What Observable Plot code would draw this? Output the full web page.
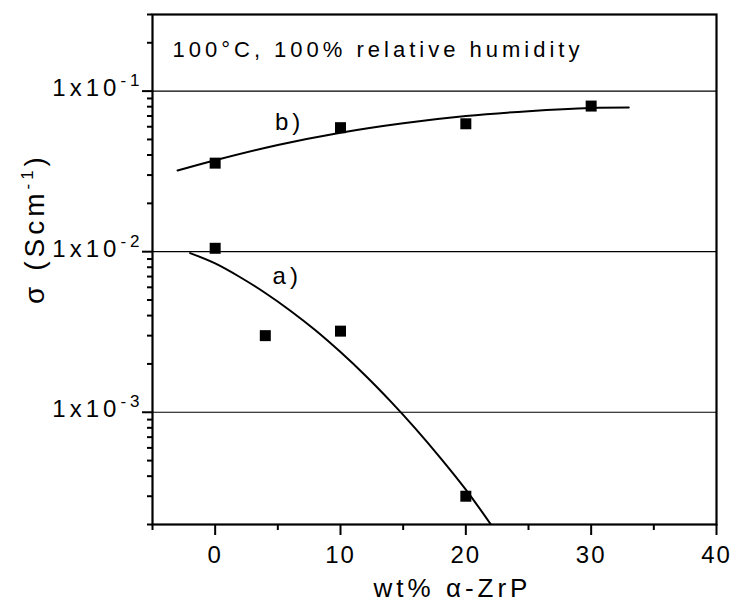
<!DOCTYPE html>
<html>
<head>
<meta charset="utf-8">
<script src="https://cdn.jsdelivr.net/npm/d3@7"></script>
<script src="https://cdn.jsdelivr.net/npm/@observablehq/plot@0.6"></script>
<style>
  html, body { margin: 0; padding: 0; background: #fff; }
  #chart svg { display: block; }
  #chart svg text { letter-spacing: 4px; }
  #chart svg g[aria-label="x-axis tick label"] text { letter-spacing: 2px; }
</style>
</head>
<body>
<div id="chart"></div>
<script>
// ---- data ----
// series a) measured points
const wtA = [0, 4, 10, 20];
const sigmaA = [0.0105, 0.0030, 0.0032, 0.00030];
// series b) measured points
const wtB = [0, 10, 20, 30];
const sigmaB = [0.0356, 0.0592, 0.0626, 0.0807];
// fitted curve a) (read along the drawn curve)
const fitAx = [-2, 0, 2, 4, 6, 8, 10, 12, 14, 16, 18, 20, 22];
const fitAy = [0.0098, 0.00845, 0.00693, 0.00553, 0.00429, 0.00324, 0.00237, 0.00169, 0.00117, 0.000789, 0.000517, 0.000330, 0.000200];
// fitted curve b) (read along the drawn curve)
const fitBx = [-3, 0, 5, 10, 15, 20, 25, 30, 33];
const fitBy = [0.0320, 0.0371, 0.0462, 0.0551, 0.0631, 0.0700, 0.0750, 0.0785, 0.0790];

// axes
const xTicks = [0, 10, 20, 30, 40];
const xMinorTicks = [-5, 5, 15, 25, 35];
const yMajorTicks = [1e-1, 1e-2, 1e-3];
const yTickLabels = ["1x10^-1", "1x10^-2", "1x10^-3"];
const yMinorTicks = [
  2e-4, 3e-4, 4e-4, 5e-4, 6e-4, 7e-4, 8e-4, 9e-4,
  2e-3, 3e-3, 4e-3, 5e-3, 6e-3, 7e-3, 8e-3, 9e-3,
  2e-2, 3e-2, 4e-2, 5e-2, 6e-2, 7e-2, 8e-2, 9e-2,
  2e-1, 3e-1
];
const annotation = "100°C, 100% relative humidity";
const curveLabels = ["a)", "b)"];
const xTitle = "wt% α-ZrP";
const yTitle = "σ (Scm^-1^)";

// ---- tables for the library ----
const pointsA = wtA.map((x, i) => ({x, y: sigmaA[i]}));
const pointsB = wtB.map((x, i) => ({x, y: sigmaB[i]}));
const curveA = fitAx.map((x, i) => ({x, y: fitAy[i]}));
const curveB = fitBx.map((x, i) => ({x, y: fitBy[i]}));

const chart = Plot.plot({
  width: 732,
  height: 601,
  marginLeft: 152,
  marginRight: 16,
  marginTop: 14,
  marginBottom: 77,
  style: {fontFamily: "'Liberation Sans', Arial, Helvetica, sans-serif", color: "black", background: "white"},
  x: {domain: [-5, 40], label: null},
  y: {type: "log", domain: [2e-4, 0.3], label: null},
  marks: [
    Plot.ruleY(yMajorTicks, {stroke: "black", strokeWidth: 1.2}),
    Plot.line(curveA, {x: "x", y: "y", curve: "catmull-rom", stroke: "black", strokeWidth: 2, clip: true}),
    Plot.line(curveB, {x: "x", y: "y", curve: "catmull-rom", stroke: "black", strokeWidth: 2, clip: true}),
    Plot.dot(pointsA, {x: "x", y: "y", symbol: "square", r: 6.2, fill: "black", stroke: "none"}),
    Plot.dot(pointsB, {x: "x", y: "y", symbol: "square", r: 6.2, fill: "black", stroke: "none"}),
    Plot.frame({stroke: "black", strokeWidth: 2.2}),
    // x axis
    Plot.axisX(xTicks, {label: null, tickSize: 11, strokeWidth: 2, fontSize: 24, tickPadding: 10, dx: 0, stroke: "black", fill: "black"}),
    Plot.axisX(xMinorTicks, {label: null, tickSize: 6, strokeWidth: 2, tickFormat: () => "", stroke: "black"}),
    // y axis
    Plot.axisY(yMajorTicks, {label: null, tickSize: 10, strokeWidth: 2, tickFormat: () => "", stroke: "black"}),
    Plot.axisY(yMinorTicks, {label: null, tickSize: 5, strokeWidth: 2, tickFormat: () => "", stroke: "black"}),
    Plot.text(yMajorTicks, {y: d => d, frameAnchor: "left", text: (d, i) => yTickLabels[i],
      textAnchor: "end", lineAnchor: "bottom", dx: -9, dy: 5, fontSize: 24, fill: "black"}),
    // titles
    Plot.text([xTitle], {frameAnchor: "bottom", text: d => d, textAnchor: "middle", lineAnchor: "bottom",
      dx: 18, dy: 72, fontSize: 26, fill: "black"}),
    Plot.text([yTitle], {frameAnchor: "left", text: d => d, rotate: -90, textAnchor: "middle", lineAnchor: "bottom",
      dx: -109, dy: -41, fontSize: 28, fill: "black"}),
    // annotations
    Plot.text([annotation], {frameAnchor: "top-left", text: d => d, textAnchor: "start", lineAnchor: "bottom",
      dx: 20, dy: 42, fontSize: 22, fill: "black"}),
    Plot.text([curveLabels[0]], {x: 4.58, y: 0.0063, text: d => d, textAnchor: "start", lineAnchor: "bottom", fontSize: 24, fill: "black"}),
    Plot.text([curveLabels[1]], {x: 4.77, y: 0.0573, text: d => d, textAnchor: "start", lineAnchor: "bottom", fontSize: 24, fill: "black"})
  ]
});

// superscripts: segments between "^" are raised
chart.querySelectorAll("text").forEach(t => {
  const s = t.textContent;
  if (!s.includes("^")) return;
  const g = t.closest("g[font-size]");
  const fs = g ? +g.getAttribute("font-size") : 24;
  const raise = Math.round(fs * 0.4);
  const parts = s.split("^");
  t.textContent = "";
  parts.forEach((p, i) => {
    if (!p) return;
    const ts = document.createElementNS("http://www.w3.org/2000/svg", "tspan");
    ts.textContent = p;
    if (i % 2 === 1) {
      ts.setAttribute("font-size", 17);
      ts.setAttribute("dy", -raise);
    } else if (i > 0) {
      ts.setAttribute("dy", raise);
    }
    t.appendChild(ts);
  });
});

document.getElementById("chart").appendChild(chart);
</script>
</body>
</html>
